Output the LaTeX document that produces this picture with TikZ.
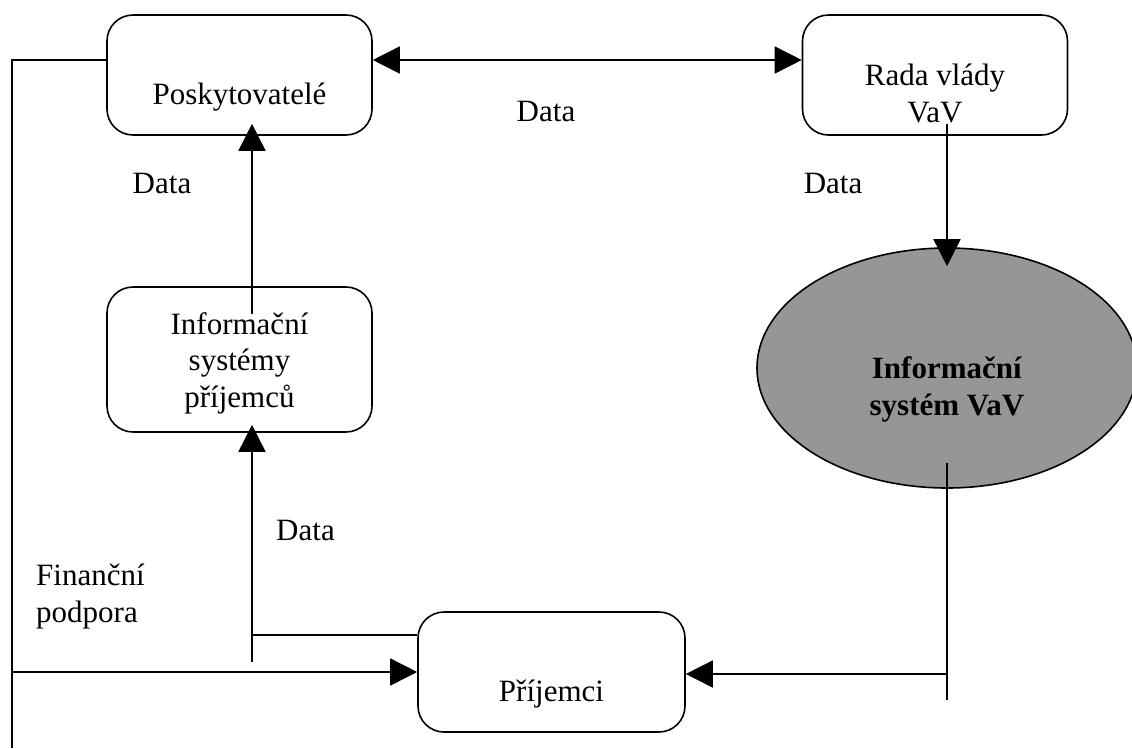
\documentclass[tikz,border=0pt]{standalone}
\usepackage{fontspec}
\setmainfont{Liberation Serif}
\usepackage{tikz}
\usetikzlibrary{shapes,arrows.meta}
\definecolor{isgray}{RGB}{150,150,150}
\newcommand{\lowered}[2]{\raisebox{#1}[0pt][0pt]{\begin{tabular}{@{}c@{}}#2\end{tabular}}}
\tikzstyle{block} = [rectangle, draw, line width=1.6pt, rounded corners=26pt,
    minimum width=265pt, minimum height=120pt, inner sep=0pt]
\tikzstyle{line} = [draw, line width=1.6pt, ->]
\tikzstyle{wire} = [draw, line width=1.6pt]
\tikzstyle{cloud} = [draw, ellipse, fill=isgray, line width=1.6pt,
    minimum width=380pt, minimum height=240pt, inner sep=0pt]
\tikzstyle{tag} = [inner sep=0pt]

\begin{document}
\begin{tikzpicture}[x=1pt, y=-1pt, >={Triangle[length=27pt,width=27pt]},
    font=\fontsize{31}{36.5}\selectfont]
\useasboundingbox (0,0) rectangle (1132,748);
\node [block] (posk) at (239.5,75) {\lowered{-28pt}{Poskytovatelé}};
\node [block, right of=posk, node distance=695.5pt] (rada) {\lowered{-28pt}{Rada vlády\\VaV}};
\node [block, below of=posk, node distance=284.5pt, minimum height=145pt] (infp) {\lowered{-10pt}{Informační\\systémy\\příjemců}};
\node [block, minimum width=267pt] (prij) at (551.5,672) {\lowered{-28pt}{Příjemci}};
\node [cloud] (isvav) at (947,368) {\lowered{-28pt}{\textbf{Informační}\\\textbf{systém VaV}}};
\node [tag] (d1) at (162,183) {Data};
\node [tag] (d2) at (546,111) {Data};
\node [tag] (d3) at (833,183) {Data};
\node [tag] (d4) at (305.5,530) {Data};
\node [tag, anchor=base west, align=left] (fin) at (36,622) {Finanční\\podpora};
\coordinate (ltop) at (12,60);
\coordinate (lmid) at (12,672);
\coordinate (lbot) at (12,748);
\coordinate (rbend) at (947,674);
\coordinate (rbot) at (947,700);
\coordinate (dtop) at (252,635);
\coordinate (dbot) at (252,662);
\path [line, <->] ([yshift=15pt]posk.east) -- ([yshift=15pt]rada.west);
\path [wire] ([yshift=15pt]posk.west) -- (ltop) -- (lbot);
\path [line] (lmid) -- (prij.west);
\path [line] ([xshift=12pt,yshift=12pt]rada.south) -- ([yshift=-19pt]isvav.north);
\path [wire] ([yshift=26pt]isvav.south) -- (rbot);
\path [line] (rbend) -- (prij.east |- rbend);
\path [wire] ([yshift=37pt]prij.west) -- (dtop);
\path [line] (dbot) -- ([xshift=12.5pt,yshift=8pt]infp.south);
\path [line] ([xshift=12.5pt,yshift=-28pt]infp.north) -- ([xshift=12.5pt,yshift=12pt]posk.south);
\end{tikzpicture}
\end{document}
